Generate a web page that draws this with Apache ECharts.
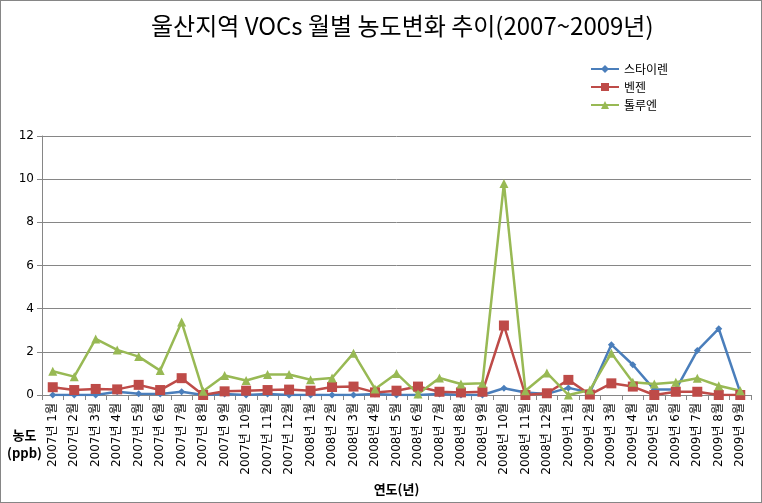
<!DOCTYPE html>
<html><head><meta charset="utf-8">
<script src="https://cdn.jsdelivr.net/npm/echarts@6/dist/echarts.min.js"></script>
<style>html,body{margin:0;padding:0;background:#fff}
#c{position:absolute;left:0;top:0;width:760px;height:501px;border:1px solid #868686}</style>
</head><body><div id="c"></div>
<script>
const categories = ["2007년 1월","2007년 2월","2007년 3월","2007년 4월","2007년 5월","2007년 6월","2007년 7월","2007년 8월","2007년 9월","2007년 10월","2007년 11월","2007년 12월",
"2008년 1월","2008년 2월","2008년 3월","2008년 4월","2008년 5월","2008년 6월","2008년 7월","2008년 8월","2008년 9월","2008년 10월","2008년 11월","2008년 12월",
"2009년 1월","2009년 2월","2009년 3월","2009년 4월","2009년 5월","2009년 6월","2009년 7월","2009년 8월","2009년 9월"];
const styrene = [0.0,0.0,0.0,0.15,0.06,0.05,0.15,0.0,0.05,0.0,0.05,0.0,
0.0,0.0,0.0,0.05,0.0,0.0,0.05,0.0,0.0,0.31,0.12,0.05,
0.33,0.12,2.33,1.4,0.25,0.25,2.06,3.07,0.12];
const benzene = [0.36,0.23,0.28,0.26,0.47,0.23,0.78,0.0,0.17,0.2,0.23,0.25,
0.2,0.37,0.39,0.12,0.2,0.39,0.15,0.12,0.15,3.22,0.0,0.08,
0.7,0.02,0.54,0.39,0.0,0.15,0.15,0.0,0.0];
const toluene = [1.1,0.85,2.6,2.09,1.78,1.13,3.38,0.17,0.9,0.67,0.95,0.95,
0.71,0.79,1.94,0.28,1.0,0.05,0.79,0.51,0.54,9.8,0.2,1.02,
0.0,0.23,1.94,0.59,0.51,0.59,0.78,0.43,0.2];
const seriesNames = ["스타이렌","벤젠","톨루엔"];
const yTicks = {min:0,max:12,interval:2};

const chart = echarts.init(document.getElementById('c'));
const font = "'Noto Sans CJK KR', 'Noto Sans', sans-serif";
const labelFont = "'DejaVu Sans', 'Noto Sans CJK KR', sans-serif";
chart.setOption({
  animation:false,
  textStyle:{fontFamily:font},
  title:{text:"울산지역 VOCs 월별 농도변화 추이(2007~2009년)",left:145,top:8,
    textStyle:{fontFamily:"'Noto Sans CJK KR', serif",fontSize:24,fontWeight:'normal',color:'#000'}},
  legend:{orient:'vertical',left:584,top:57,itemGap:6,itemWidth:28,itemHeight:10,
    textStyle:{fontSize:12,color:'#000'},data:seriesNames},
  grid:{left:41,right:10,top:135,bottom:107,containLabel:false},
  xAxis:{type:'category',data:categories,boundaryGap:true,
    name:'연도(년)',nameLocation:'middle',nameGap:88,
    nameTextStyle:{fontSize:13,fontWeight:'bold',color:'#000'},
    axisLine:{lineStyle:{color:'#868686'}},
    axisTick:{show:true,length:5,lineStyle:{color:'#868686'}},
    axisLabel:{rotate:90,interval:0,fontSize:12,color:'#000',margin:8,fontFamily:labelFont}},
  yAxis:{type:'value',min:yTicks.min,max:yTicks.max,interval:yTicks.interval,
    axisLine:{show:true,lineStyle:{color:'#868686'}},
    axisTick:{show:true,length:5,lineStyle:{color:'#868686'}},
    axisLabel:{fontSize:12,color:'#000',margin:8,fontFamily:labelFont},
    splitLine:{lineStyle:{color:'#868686'}}},
  graphic:[{type:'text',left:6,top:425,style:{text:'농도\n(ppb)',font:"bold 13px "+font,fill:'#000',lineHeight:18,textAlign:'center',x:18}}],
  series:[
    {name:seriesNames[0],type:'line',data:styrene,symbol:'diamond',symbolSize:7,
      itemStyle:{color:'#4A7EBB'},lineStyle:{width:2.5,color:'#4A7EBB'}},
    {name:seriesNames[1],type:'line',data:benzene,symbol:'rect',symbolSize:10,
      itemStyle:{color:'#BE4B48'},lineStyle:{width:2.5,color:'#BE4B48'}},
    {name:seriesNames[2],type:'line',data:toluene,symbol:'triangle',symbolSize:9,
      itemStyle:{color:'#98B954'},lineStyle:{width:2.5,color:'#98B954'}}
  ]
});
</script></body></html>
